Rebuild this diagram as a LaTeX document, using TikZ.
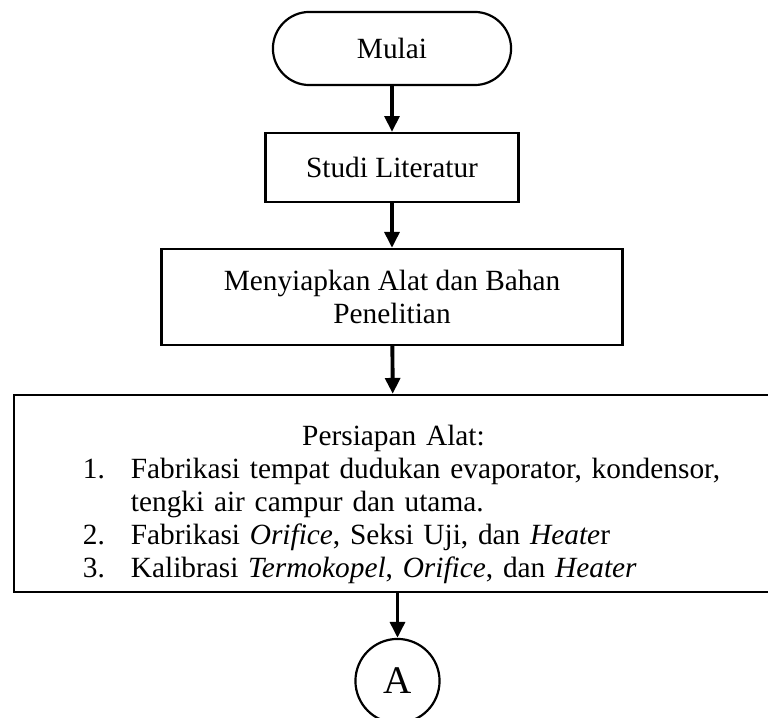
\documentclass[tikz,border=0pt]{standalone}
\usepackage{fontspec}
\setmainfont{Liberation Serif}
\usetikzlibrary{arrows.meta,shapes.misc}

\tikzset{
	kotak/.style={draw, line width=0.9pt, inner sep=2pt},
	terminal/.style={kotak, rounded rectangle, align=center},
	panah/.style={-{Triangle[width=6pt,length=6.5pt]}, line width=1.6pt},
}

\begin{document}
\begin{tikzpicture}[x=0.409pt,y=-0.409pt,font=\fontsize{12}{13.5}\selectfont]
	%
	\def\tengah{392}
	\def\indent{19.6pt}
	%
	\useasboundingbox (0,0) rectangle (768,718);
	%
	\node [terminal, minimum width=101.4pt, minimum height=29.9pt] (mulai) at (\tengah,48.5) {Mulai};
	\node [kotak, align=center, minimum width=103.5pt, minimum height=28.2pt] (studi) at (\tengah,167.5) {Studi Literatur};
	\node [kotak, align=center, minimum width=188.5pt, minimum height=39.3pt] (alat) at (\tengah,297) {Menyiapkan Alat dan Bahan\\Penelitian};
	\node [kotak, minimum width=310.4pt, minimum height=80.6pt, text width=274pt,
		font=\fontsize{12}{13.5}\selectfont] (persiapan) at (393.5,493.5)
		{\hyphenpenalty=10000\parindent=0pt
		{\centering\rule{0pt}{17pt}Persiapan Alat:\par}
		\raggedright\leftskip=10pt
		\hangindent=\indent\hangafter=1\makebox[\indent][l]{1.}Fabrikasi tempat dudukan evaporator, kondensor,\newline tengki air campur dan utama.\par
		\hangindent=\indent\hangafter=1\makebox[\indent][l]{2.}Fabrikasi \textit{Orifice}, Seksi Uji, dan \textit{Heate}r\par
		\hangindent=\indent\hangafter=1\makebox[\indent][l]{3.}Kalibrasi \textit{Termokopel}, \textit{Orifice}, dan \textit{Heater}\par};
	\node [kotak, circle, minimum size=34.4pt, font=\fontsize{16}{19}\selectfont] (lingkaran) at (397.5,681) {A};
	%
	\foreach \dari/\ke in {mulai/studi,studi/alat,alat/persiapan}
		\draw [panah] (\dari) -- (\ke);
	\draw [panah] (lingkaran |- persiapan.south) -- (lingkaran);
\end{tikzpicture}
\end{document}
